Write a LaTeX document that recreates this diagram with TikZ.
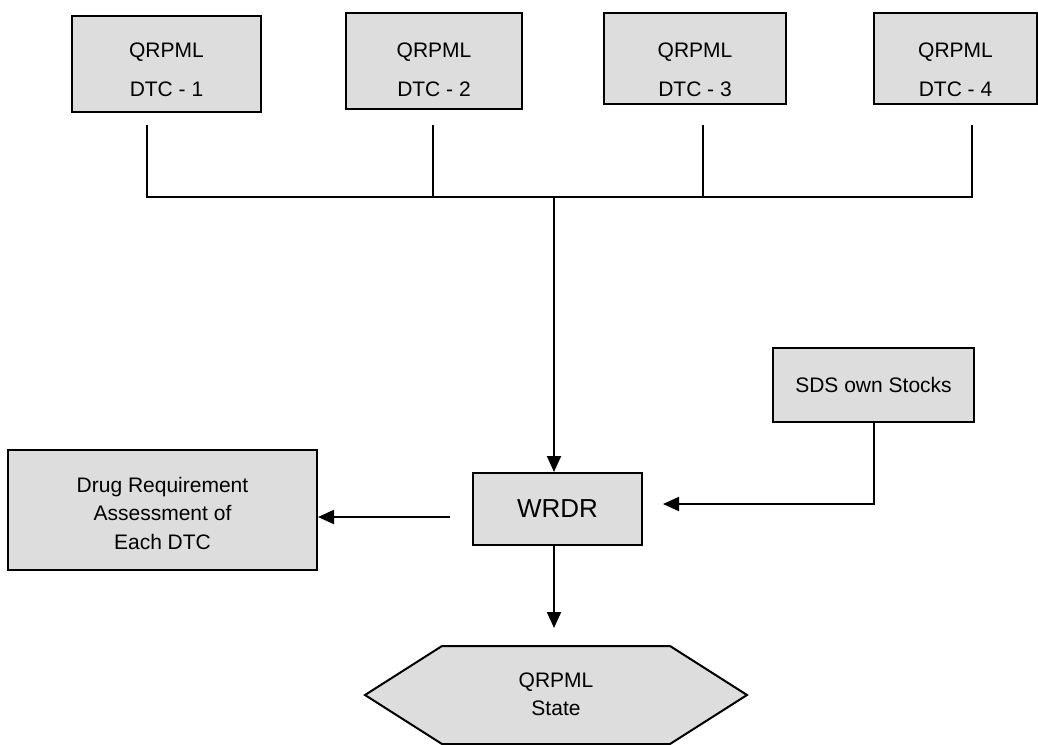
\documentclass[tikz,border=0pt]{standalone}
\usepackage{fontspec}
\setmainfont{Liberation Sans}
\usetikzlibrary{arrows.meta}
\definecolor{boxfill}{HTML}{DDDDDD}
% invisible strut that pushes the first line of a box down
\newcommand\topgap[1]{\rule{0pt}{#1}}
\tikzset{
  box/.style={draw=black, line width=2pt, fill=boxfill, inner sep=0pt,
    align=center, font=\fontsize{21}{39}\selectfont},
  wire/.style={draw=black, line width=2pt},
  tree/.style={draw=black, line width=1.5pt},
  flow/.style={wire, -{Triangle[length=16pt,width=14pt]}},
}
\begin{document}
\begin{tikzpicture}[x=1pt,y=-1pt]
\useasboundingbox (0,0) rectangle (1038,744);

% district boxes
\node[box, minimum width=189pt, minimum height=96pt] (dtc1) at (166.5,64) {\topgap{26pt}QRPML\\DTC - 1};
\node[box, minimum width=176pt, minimum height=96pt] (dtc2) at (434,61) {\topgap{32pt}QRPML\\DTC - 2};
\node[box, minimum width=182pt, minimum height=91pt] (dtc3) at (695,58.5) {\topgap{37pt}QRPML\\DTC - 3};
\node[box, minimum width=163pt, minimum height=91pt] (dtc4) at (955.5,58.5) {\topgap{37pt}QRPML\\DTC - 4};

% collecting tree
\coordinate (t1) at (147,125);
\coordinate (t2) at (433,125);
\coordinate (t3) at (703,125);
\coordinate (t4) at (972,125);
\coordinate (j1) at (147,197);
\coordinate (j2) at (433,197);
\coordinate (j3) at (703,197);
\coordinate (j4) at (972,197);
\coordinate (hub) at (554,197);
\draw[tree] (t1) -- (j1) -- (j4) -- (t4);
\draw[tree] (t2) -- (j2);
\draw[tree] (t3) -- (j3);

% central nodes
\node[box, minimum width=169pt, minimum height=72pt, font=\fontsize{26}{30}\selectfont] (wrdr) at (557.5,509) {WRDR};
\node[box, minimum width=309pt, minimum height=120pt, font=\fontsize{21}{28.5}\selectfont] (drug) at (162.5,510)
  {\topgap{21.5pt}Drug Requirement\\Assessment of\\Each DTC};
\node[box, minimum width=201pt, minimum height=74pt] (sds) at (873.5,385) {SDS own Stocks};

% state hexagon
\filldraw[fill=boxfill, draw=black, line width=2pt]
  (365,695) -- (442,646) -- (670,646) -- (747,695) -- (670,744) -- (442,744) -- cycle;
\node[align=center, font=\fontsize{21}{28}\selectfont] (state) at (556,694) {QRPML\\State};

% connectors
\draw[flow] (hub) -- (hub |- wrdr.north);
\coordinate (lout) at (450,517);
\draw[flow] (lout) -- (lout -| drug.east);
\coordinate (rin) at (663,504);
\draw[flow] (sds.south) |- (rin);
\coordinate (dout) at (554,545);
\coordinate (din) at (554,628);
\draw[flow] (dout) -- (din);
\end{tikzpicture}
\end{document}
